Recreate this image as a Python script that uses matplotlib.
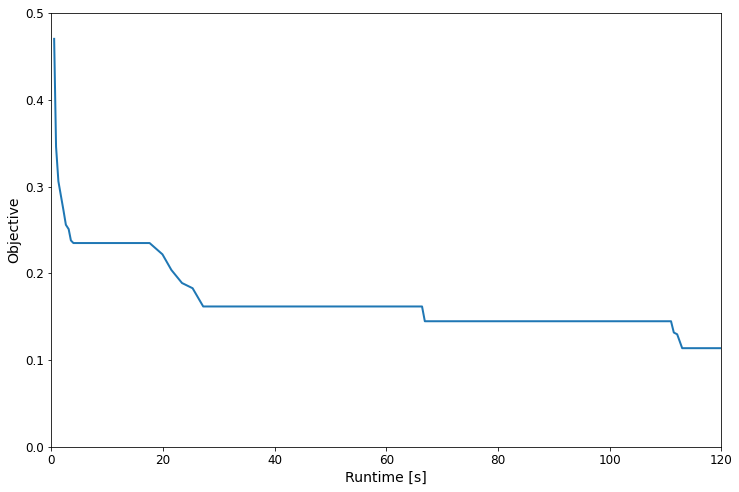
import numpy as np
import matplotlib
matplotlib.use('Agg')
import matplotlib.pyplot as plt

# incumbent objective over runtime
runtime = [0.5, 0.84, 1.26, 2.16, 2.6, 3.1, 3.5, 3.95, 17.6, 19.9, 21.5,
           23.4, 25.3, 27.2, 66.4, 66.9, 111.0, 111.5, 112.1, 113.0, 120.0]
objective = [0.47, 0.346, 0.306, 0.273, 0.256, 0.251, 0.238, 0.235, 0.235,
             0.222, 0.204, 0.189, 0.183, 0.162, 0.162, 0.145, 0.145, 0.132,
             0.130, 0.114, 0.114]

fig = plt.figure(figsize=(739/72., 492/72.), dpi=72)
ax = fig.add_axes([0.0695, 0.091, 0.9065, 0.883])
ax.plot(runtime, objective, color='#1f77b4', lw=2)
ax.set_xlim(0, 120)
ax.set_ylim(0, 0.5)
ax.set_xlabel('Runtime [s]', fontsize=14)
ax.set_ylabel('Objective', fontsize=14)
ax.tick_params(labelsize=12)
fig.savefig('out.png', dpi=72)
